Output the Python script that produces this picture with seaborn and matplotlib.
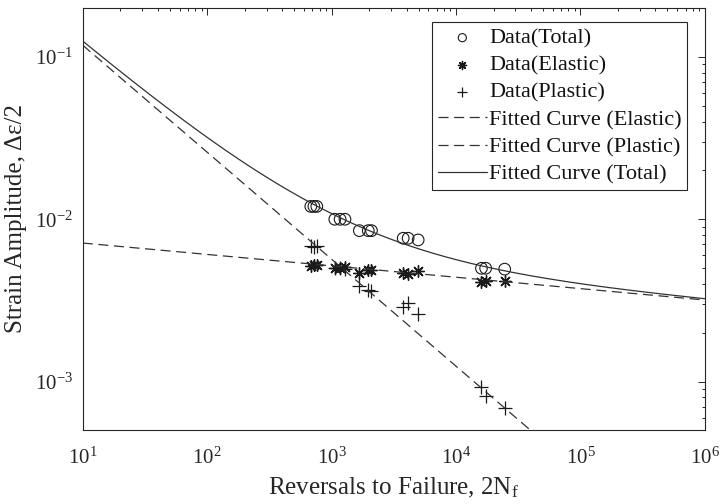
import numpy as np
import pandas as pd
import matplotlib
matplotlib.use("Agg")
import matplotlib.pyplot as plt
import seaborn as sns
from matplotlib.ticker import LogLocator, NullFormatter

# ---- data ----
reversals = [680, 720, 760, 1060, 1170, 1280, 1670, 1970, 2090,
             3760, 4120, 4960, 16000, 17300, 24600]
strain_total = [0.0120, 0.0120, 0.0120, 0.0100, 0.0100, 0.0100, 0.00851, 0.00851, 0.00851,
                0.00764, 0.00764, 0.00746, 0.00499, 0.00499, 0.00493]
strain_elastic = [0.00512, 0.00525, 0.00520, 0.00499, 0.00500, 0.00506, 0.00469, 0.00488, 0.00488,
                  0.00465, 0.00460, 0.00483, 0.00413, 0.00418, 0.00418]
strain_plastic = [0.00688, 0.00675, 0.00680, 0.00501, 0.00500, 0.00494, 0.00386, 0.00365, 0.00363,
                  0.00290, 0.00304, 0.00261, 0.00093, 0.00082, 0.00069]

# fitted Basquin / Coffin-Manson parameters
elastic_coef, elastic_exp = 0.00839, -0.0702
plastic_coef, plastic_exp = 0.538, -0.659
curve_range = [1e1, 1e6]

xticks = [1e1, 1e2, 1e3, 1e4, 1e5, 1e6]
yticks = [1e-3, 1e-2, 1e-1]

# ---- build frames ----
df = pd.DataFrame({"N": reversals, "total": strain_total,
                   "elastic": strain_elastic, "plastic": strain_plastic})
Nc = np.logspace(np.log10(curve_range[0]), np.log10(curve_range[1]), 400)
el = elastic_coef * Nc ** elastic_exp
pl = plastic_coef * Nc ** plastic_exp
curves = pd.DataFrame({"N": Nc, "elastic": el, "plastic": pl, "total": el + pl})

sns.set_theme(style="white")
plt.rcParams["font.family"] = ["Liberation Serif", "DejaVu Serif"]
plt.rcParams["mathtext.fontset"] = "custom"
plt.rcParams["mathtext.rm"] = "Liberation Serif"
plt.rcParams["mathtext.it"] = "Liberation Serif:italic"
plt.rcParams["mathtext.default"] = "regular"

fig = plt.figure(figsize=(7.2, 5.04), dpi=100)
ax = fig.add_axes([0.115, 0.147, 0.864, 0.837])

k = "#1a1a1a"
dash = (0, (8, 4.5))
sns.scatterplot(data=df, x="N", y="total", ax=ax, marker="o", s=70,
                facecolors="none", edgecolor=k, linewidth=0.8, label="Data(Total)")
sns.scatterplot(data=df, x="N", y="elastic", ax=ax, marker=(8, 2, 0), s=70,
                color=k, linewidth=1.0, label="Data(Elastic)")
sns.scatterplot(data=df, x="N", y="plastic", ax=ax, marker="+", s=90,
                color=k, linewidth=0.9, label="Data(Plastic)")
sns.lineplot(data=curves, x="N", y="elastic", ax=ax, color="#333333", lw=0.9,
             dashes=False, linestyle=dash, label="Fitted Curve (Elastic)")
sns.lineplot(data=curves, x="N", y="plastic", ax=ax, color="#333333", lw=0.9,
             dashes=False, linestyle=dash, label="Fitted Curve (Plastic)")
sns.lineplot(data=curves, x="N", y="total", ax=ax, color="#333333", lw=0.9,
             label="Fitted Curve (Total)")

ax.set_xscale("log")
ax.set_yscale("log")
ax.set_xlim(1e1, 1e6)
ax.set_ylim(5.04e-4, 0.2)
ax.set_xticks(xticks)
ax.set_yticks(yticks)
ax.xaxis.set_minor_locator(LogLocator(base=10, subs=np.arange(2, 10), numticks=20))
ax.yaxis.set_minor_locator(LogLocator(base=10, subs=np.arange(2, 10), numticks=20))
ax.xaxis.set_minor_formatter(NullFormatter())
ax.yaxis.set_minor_formatter(NullFormatter())

for s in ax.spines.values():
    s.set_color("#262626")
    s.set_linewidth(0.8)
ax.tick_params(which="both", direction="in", top=True, right=True, colors="#262626",
               width=0.7)
ax.tick_params(which="major", length=5, labelsize=15)
ax.tick_params(axis="x", which="major", pad=13)
ax.tick_params(axis="y", which="major", pad=7)
ax.tick_params(which="minor", length=2.5)

ax.set_xlabel("Reversals to Failure, 2N$_\\mathregular{f}$", fontsize=18, color="#262626",
              labelpad=5)
ax.set_ylabel("Strain Amplitude, Δε/2", fontsize=18, color="#262626", labelpad=6)

leg = ax.legend(loc="upper right", bbox_to_anchor=(0.9715, 0.966), fontsize=16,
                frameon=True, fancybox=False, framealpha=1, edgecolor="#262626",
                handlelength=2.2, handletextpad=0.1, borderpad=0.25, labelspacing=0.3,
                borderaxespad=0, markerscale=0.7)
leg.get_frame().set_linewidth(0.8)
for t in leg.get_texts():
    t.set_color("#111111")

fig.savefig("out.png", dpi=100, facecolor="white")
